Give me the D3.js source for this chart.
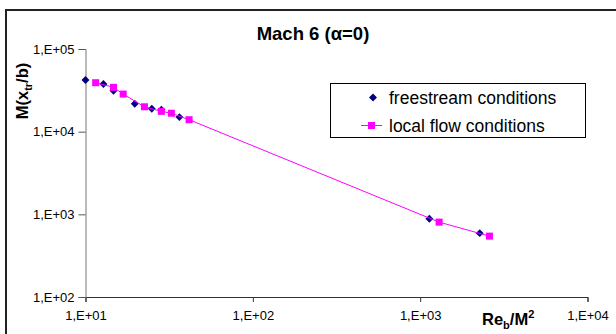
<!DOCTYPE html>
<html><head><meta charset="utf-8">
<script src="https://cdn.jsdelivr.net/npm/d3@7"></script>
<style>html,body{margin:0;background:#fff;overflow:hidden}svg{display:block;font-family:"Liberation Sans",Arial,sans-serif}</style>
</head><body><svg id="c" width="616" height="334"></svg>
<script>
const title = "Mach 6 (α=0)";
const freeX = [10.0, 12.8, 14.7, 19.7, 24.9, 28.4, 36.4, 1135, 2270];
const freeY = [42200, 37700, 31300, 21800, 18900, 18400, 15000, 883, 592];
const localX = [11.5, 14.7, 16.8, 22.5, 28.4, 32.6, 41.6, 1298, 2594];
const localY = [39100, 34400, 28500, 20000, 17600, 16700, 13950, 805, 545];
const xTicks = [1e1, 1e2, 1e3, 1e4];
const yTicks = [1e2, 1e3, 1e4, 1e5];
const xTickLabels = ["1,E+01", "1,E+02", "1,E+03", "1,E+04"];
const yTickLabels = ["1,E+02", "1,E+03", "1,E+04", "1,E+05"];
const legendLabels = ["freestream conditions", "local flow conditions"];

const svg = d3.select("#c");
const L = 85.5, R = 587.5, T = 49, B = 297;
const x = d3.scaleLog().domain([1e1, 1e4]).range([L, R]);
const y = d3.scaleLog().domain([1e2, 1e5]).range([B, T]);

svg.append("rect").attr("width", 616).attr("height", 334).attr("fill", "#fff");

svg.append("text").attr("x", 313).attr("y", 40).attr("text-anchor", "middle")
  .attr("font-weight", "bold").attr("font-size", 18.5).text(title);

// axes
const xAxis = svg.append("g").attr("transform", `translate(0,${B})`)
  .call(d3.axisBottom(x).tickValues(xTicks).tickSize(5).tickPadding(9)
    .tickFormat((d, i) => xTickLabels[i]));
xAxis.select(".domain").attr("stroke", "#333");
xAxis.selectAll("line").attr("stroke", "#333");
xAxis.selectAll("text").attr("font-size", 13).attr("font-family", "Liberation Sans, Arial, sans-serif").attr("fill", "#000");

const yAxis = svg.append("g").attr("transform", `translate(${L},0)`)
  .call(d3.axisLeft(y).tickValues(yTicks).tickSize(7).tickPadding(4)
    .tickFormat((d, i) => yTickLabels[i]));
yAxis.select(".domain").attr("stroke", "#777");
yAxis.selectAll("line").attr("stroke", "#555");
yAxis.selectAll("text").attr("font-size", 13).attr("font-family", "Liberation Sans, Arial, sans-serif").attr("fill", "#000");

// axis titles
const yl = svg.append("text").attr("transform", "translate(28,91) rotate(-90)")
  .attr("text-anchor", "middle").attr("font-weight", "bold").attr("font-size", 16.5);
yl.append("tspan").text("M(x");
yl.append("tspan").attr("font-size", 11).attr("dy", 4).text("tr");
yl.append("tspan").attr("dy", -4).text("/b)");

const xl = svg.append("text").attr("x", 482).attr("y", 325)
  .attr("font-weight", "bold").attr("font-size", 16.5);
xl.append("tspan").text("Re");
xl.append("tspan").attr("font-size", 11).attr("dy", 4).text("b");
xl.append("tspan").attr("dy", -4).text("/M");
xl.append("tspan").attr("font-size", 11).attr("dy", -7).text("2");

// series
const free = freeX.map((v, i) => [v, freeY[i]]);
const local = localX.map((v, i) => [v, localY[i]]);
const diamond = d3.symbol().type(d3.symbolDiamond2).size(40);

svg.append("g").selectAll("path").data(free).join("path")
  .attr("d", diamond).attr("transform", d => `translate(${x(d[0])},${y(d[1])})`)
  .attr("fill", "#000080");

svg.append("path").datum(local)
  .attr("d", d3.line().x(d => x(d[0])).y(d => y(d[1])))
  .attr("fill", "none").attr("stroke", "#ff00ff").attr("stroke-width", 1);

svg.append("g").selectAll("rect.m").data(local).join("rect").attr("class", "m")
  .attr("x", d => x(d[0]) - 3.5).attr("y", d => y(d[1]) - 3.5)
  .attr("width", 7).attr("height", 7).attr("fill", "#ff00ff");

// legend
const lg = svg.append("g");
lg.append("rect").attr("x", 330.5).attr("y", 83.5).attr("width", 255).attr("height", 54)
  .attr("fill", "#fff").attr("stroke", "#000").attr("stroke-width", 1);
lg.append("path").attr("d", diamond).attr("transform", "translate(373,97.5)").attr("fill", "#000080");
lg.append("line").attr("x1", 361).attr("x2", 382).attr("y1", 125.5).attr("y2", 125.5)
  .attr("stroke", "#ff00ff").attr("stroke-width", 1);
lg.append("rect").attr("x", 368).attr("y", 122).attr("width", 7).attr("height", 7).attr("fill", "#ff00ff");
lg.selectAll("text.l").data(legendLabels).join("text").attr("class", "l")
  .attr("x", 389).attr("y", (d, i) => 103.5 + i * 28).attr("font-size", 17.5).text(d => d);

// outer frame (only top and left edges visible)
svg.append("path").attr("d", "M6,334V10H616")
  .attr("fill", "none").attr("stroke", "#222").attr("stroke-width", 2);
</script></body></html>
